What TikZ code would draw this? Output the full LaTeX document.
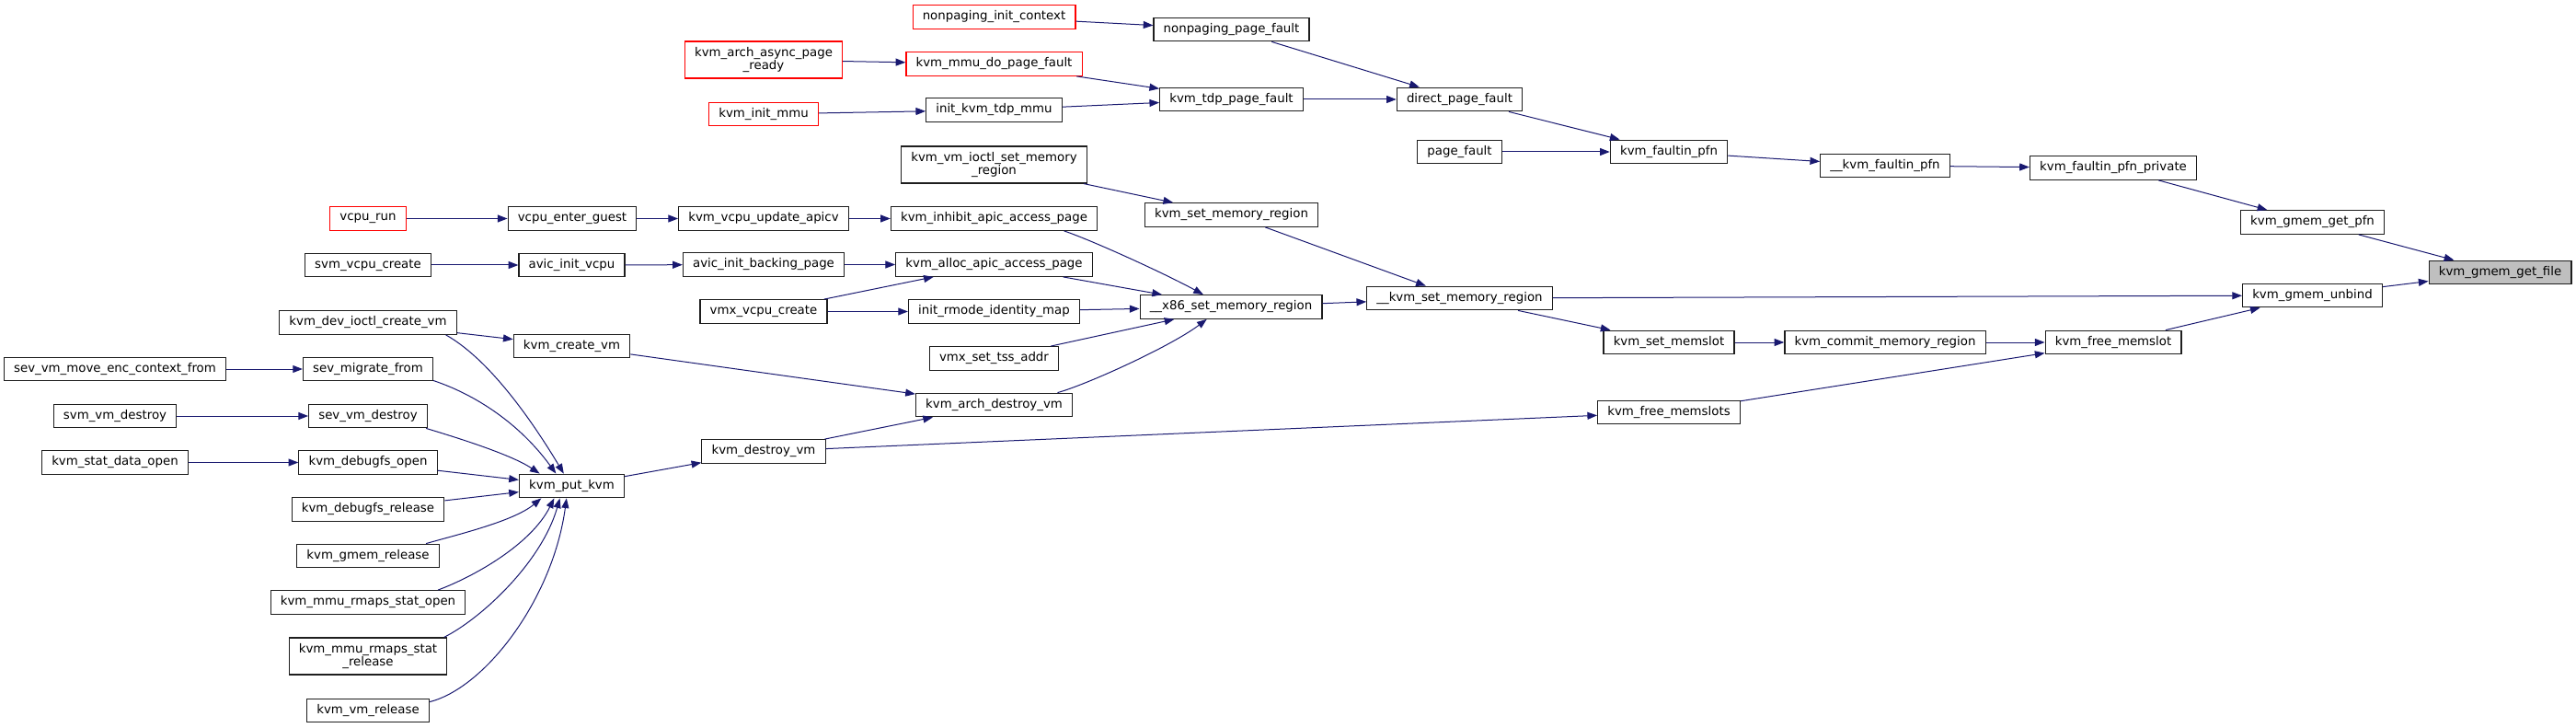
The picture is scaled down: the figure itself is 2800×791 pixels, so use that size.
\documentclass[tikz,border=0pt]{standalone}
\usepackage{fontspec}
\setmainfont{DejaVu Sans}
\usetikzlibrary{arrows.meta}
\definecolor{cedge}{RGB}{25,25,112}
\definecolor{cbox}{RGB}{30,30,30}
\definecolor{cred}{RGB}{255,0,0}
\definecolor{croot}{RGB}{191,191,191}

\begin{document}
\begin{tikzpicture}[x=0.75pt,y=-0.75pt,font=\fontsize{10pt}{10.7pt}\selectfont,
  fn/.style={draw=cbox,line width=0.9pt,fill=white,inner xsep=8pt,inner ysep=0pt,
    minimum height=19.2pt,align=center},
  fntwo/.style={fn,minimum height=30pt},
  fnred/.style={fn,draw=cred},
  fnroot/.style={fn,fill=croot},
  call/.style={cedge,line width=0.75pt,-{Triangle[length=8pt,width=6pt]}}]
  \useasboundingbox (0,0) rectangle (2800,791);
  % columns (pixel units, y grows downwards)
  \def\cA{125}\def\cB{400}\def\cC{621.5}\def\cD{830}\def\cE{1080.5}\def\cF{1338.5}
  \def\cG{1586.5}\def\cH{1814}\def\cI{2049}\def\cJ{2297}\def\cK{2513.5}\def\cL{2717.5}
  % --- page fault branch ---
  \node[fnred] (npinit) at (\cE,18.5) {nonpaging\_init\_context};
  \node[fn] (nppf) at (\cF,32) {nonpaging\_page\_fault};
  \node[fnred,minimum height=30pt] (asyncready) at (\cD,65) {kvm\_arch\_async\_page\\\_ready};
  \node[fnred] (mmudopf) at (\cE,69.5) {kvm\_mmu\_do\_page\_fault};
  \node[fn] (tdppf) at (\cF,108) {kvm\_tdp\_page\_fault};
  \node[fnred] (initmmu) at (\cD,124) {kvm\_init\_mmu};
  \node[fn] (inittdp) at (\cE,119.5) {init\_kvm\_tdp\_mmu};
  \node[fn] (directpf) at (\cG,108) {direct\_page\_fault};
  \node[fn] (pagefault) at (\cG,165) {page\_fault};
  \node[fn] (faultin) at (\cH,165) {kvm\_faultin\_pfn};
  \node[fn] (kfaultin) at (\cI,180) {\_\_kvm\_faultin\_pfn};
  \node[fn] (faultinpriv) at (\cJ,182.5) {kvm\_faultin\_pfn\_private};
  \node[fn] (gmempfn) at (\cK,241.5) {kvm\_gmem\_get\_pfn};
  \node[fnroot] (gmemfile) at (\cL,296) {kvm\_gmem\_get\_file};
  % --- memory region branch ---
  \node[fntwo] (ioctlsetmem) at (\cE,179) {kvm\_vm\_ioctl\_set\_memory\\\_region};
  \node[fn] (setmem) at (\cF,233.5) {kvm\_set\_memory\_region};
  \node[fn] (ksetmem) at (\cG,324) {\_\_kvm\_set\_memory\_region};
  \node[fn] (gmemunbind) at (\cK,321) {kvm\_gmem\_unbind};
  \node[fn] (setmemslot) at (\cH,372) {kvm\_set\_memslot};
  \node[fn] (commitmem) at (\cI,372) {kvm\_commit\_memory\_region};
  \node[fn] (freememslot) at (\cJ,372) {kvm\_free\_memslot};
  \node[fn] (freememslots) at (\cH,448) {kvm\_free\_memslots};
  \node[fn] (xsetmem) at (1338,333.5) {\_\_x86\_set\_memory\_region};
  \node[fn] (inhibit) at (\cE,237.5) {kvm\_inhibit\_apic\_access\_page};
  \node[fn] (allocapic) at (\cE,287.5) {kvm\_alloc\_apic\_access\_page};
  \node[fn] (rmodemap) at (\cE,338.5) {init\_rmode\_identity\_map};
  \node[fn] (tssaddr) at (\cE,389.5) {vmx\_set\_tss\_addr};
  \node[fn] (archdestroy) at (\cE,440) {kvm\_arch\_destroy\_vm};
  \node[fn] (updateapicv) at (\cD,237.5) {kvm\_vcpu\_update\_apicv};
  \node[fn] (backingpage) at (\cD,287.5) {avic\_init\_backing\_page};
  \node[fn] (vmxcreate) at (\cD,338.5) {vmx\_vcpu\_create};
  \node[fn] (destroyvm) at (\cD,490.5) {kvm\_destroy\_vm};
  \node[fn] (enterguest) at (622,237.5) {vcpu\_enter\_guest};
  \node[fn] (avicvcpu) at (\cC,288) {avic\_init\_vcpu};
  \node[fn] (createvm) at (\cC,376) {kvm\_create\_vm};
  \node[fn] (putkvm) at (\cC,528) {kvm\_put\_kvm};
  % --- callers of kvm_put_kvm ---
  \node[fnred] (vcpurun) at (\cB,237.5) {vcpu\_run};
  \node[fn] (svmcreate) at (\cB,288) {svm\_vcpu\_create};
  \node[fn] (devioctl) at (\cB,350.5) {kvm\_dev\_ioctl\_create\_vm};
  \node[fn] (sevmigrate) at (\cB,401) {sev\_migrate\_from};
  \node[fn] (sevdestroy) at (\cB,452) {sev\_vm\_destroy};
  \node[fn] (dbgopen) at (\cB,502.5) {kvm\_debugfs\_open};
  \node[fn] (dbgrelease) at (\cB,553.5) {kvm\_debugfs\_release};
  \node[fn] (gmemrelease) at (\cB,604) {kvm\_gmem\_release};
  \node[fn] (rmapsopen) at (\cB,654.5) {kvm\_mmu\_rmaps\_stat\_open};
  \node[fntwo] (rmapsrelease) at (\cB,713) {kvm\_mmu\_rmaps\_stat\\\_release};
  \node[fn] (vmrelease) at (\cB,772) {kvm\_vm\_release};
  \node[fn] (sevmove) at (\cA,401) {sev\_vm\_move\_enc\_context\_from};
  \node[fn] (svmdestroy) at (\cA,452) {svm\_vm\_destroy};
  \node[fn] (statopen) at (\cA,502.5) {kvm\_stat\_data\_open};
  % straight calls
  \foreach \a/\b in {npinit/nppf, asyncready/mmudopf, mmudopf/tdppf, initmmu/inittdp,
      inittdp/tdppf, nppf/directpf, tdppf/directpf, directpf/faultin, pagefault/faultin,
      faultin/kfaultin, kfaultin/faultinpriv, faultinpriv/gmempfn, gmempfn/gmemfile,
      gmemunbind/gmemfile, ioctlsetmem/setmem, setmem/ksetmem, xsetmem/ksetmem,
      ksetmem/gmemunbind, ksetmem/setmemslot, setmemslot/commitmem, commitmem/freememslot,
      freememslot/gmemunbind, freememslots/freememslot, destroyvm/freememslots,
      destroyvm/archdestroy, createvm/archdestroy, tssaddr/xsetmem, rmodemap/xsetmem,
      allocapic/xsetmem, updateapicv/inhibit, enterguest/updateapicv, vcpurun/enterguest,
      svmcreate/avicvcpu, avicvcpu/backingpage, backingpage/allocapic, vmxcreate/allocapic,
      vmxcreate/rmodemap, devioctl/createvm, sevmove/sevmigrate, svmdestroy/sevdestroy,
      statopen/dbgopen, dbgopen/putkvm, dbgrelease/putkvm, putkvm/destroyvm}
    \draw[call] (\a) -- (\b);
  % curved calls into kvm_put_kvm
  \draw[call] (devioctl.-9) .. controls +(50,28) and +(-30,-50) .. (putkvm.123);
  \draw[call] (sevmigrate.-10) .. controls +(45,15) and +(-40,-55) .. (putkvm.142);
  \draw[call] (sevdestroy.-12) .. controls +(40,12) and +(-30,-20) .. (putkvm.159);
  \draw[call] (gmemrelease.12) .. controls +(35,-10) and +(-30,25) .. (putkvm.-158);
  \draw[call] (rmapsopen.10) .. controls +(40,-15) and +(-25,50) .. (putkvm.-145);
  \draw[call] (rmapsrelease.14) .. controls +(40,-20) and +(-20,70) .. (putkvm.-134);
  \draw[call] (vmrelease.8) .. controls +(60,-15) and +(-15,110) .. (putkvm.-113);
  % curved calls into __x86_set_memory_region
  \draw[call] (inhibit.-10) .. controls +(30,10) and +(-40,-22) .. (xsetmem.156);
  \draw[call] (archdestroy.11) .. controls +(30,-8) and +(-40,30) .. (xsetmem.-153);
\end{tikzpicture}
\end{document}
